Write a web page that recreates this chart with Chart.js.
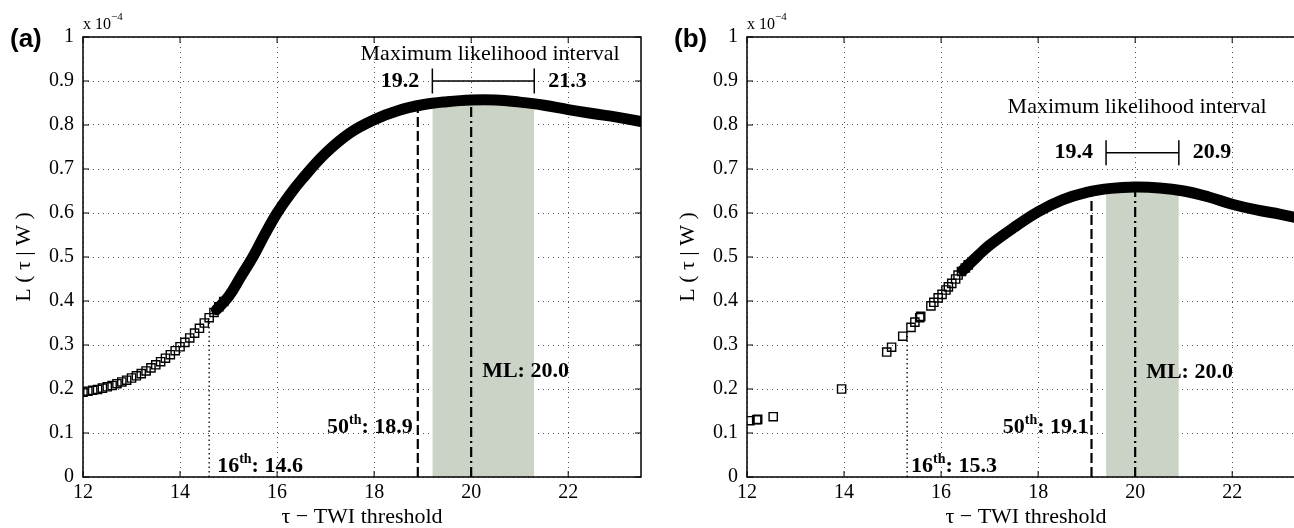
<!DOCTYPE html>
<html>
<head>
<meta charset="utf-8">
<script src="https://cdn.jsdelivr.net/npm/chart.js@4.4.1/dist/chart.umd.min.js"></script>
<style>
  html, body { margin: 0; padding: 0; background: #fff; overflow: hidden; }
  #wrap { position: relative; width: 1294px; height: 528px; overflow: hidden; }
  canvas { position: absolute; top: 0; }
  #chartA { left: 0; }
  #chartB { left: 664px; }
</style>
</head>
<body>
<div id="wrap">
  <canvas id="chartA" width="660" height="528" style="width:660px;height:528px"></canvas>
  <canvas id="chartB" width="660" height="528" style="width:660px;height:528px"></canvas>
</div>
<script>
'use strict';

// axes
const xTicks = [12, 14, 16, 18, 20, 22];
const yTicks = [0, 0.1, 0.2, 0.3, 0.4, 0.5, 0.6, 0.7, 0.8, 0.9, 1];

// panel (a) - separate squares at the low end, then the dense run
const tauSparseA = [12.0, 12.1, 12.2, 12.3, 12.4, 12.5, 12.6, 12.7, 12.8, 12.9, 13.0, 13.1, 13.2, 13.3, 13.4,
  13.5, 13.6, 13.7, 13.8, 13.9, 14.0, 14.1, 14.2, 14.3, 14.4, 14.5, 14.6, 14.7, 14.8, 14.9];
const likSparseA = [0.193, 0.195, 0.197, 0.199, 0.202, 0.205, 0.208, 0.212, 0.216, 0.220, 0.225, 0.230, 0.235, 0.241, 0.248,
  0.255, 0.262, 0.270, 0.278, 0.287, 0.296, 0.306, 0.316, 0.327, 0.338, 0.350, 0.362, 0.374, 0.387, 0.399];
const tauDenseA = [14.75, 15.0, 15.25, 15.5, 15.75, 16.0, 16.25, 16.5, 17.0, 17.5, 18.0, 18.5, 19.0, 19.5, 20.0, 20.5, 21.0, 21.5, 22.0, 22.5, 23.0, 23.5];
const likDenseA = [0.38, 0.41, 0.455, 0.50, 0.552, 0.60, 0.64, 0.675, 0.736, 0.782, 0.812, 0.833, 0.846, 0.853, 0.857, 0.857, 0.852, 0.845, 0.835, 0.826, 0.818, 0.808];

// panel (b)
const tauSparseB = [12.06, 12.2, 12.22, 12.54, 13.95, 14.88, 14.98, 15.21, 15.38, 15.46, 15.56, 15.58, 15.79, 15.85,
  15.94, 16.02, 16.1, 16.15, 16.22, 16.3, 16.35, 16.42, 16.5, 16.56];
const likSparseB = [0.128, 0.13, 0.131, 0.137, 0.2, 0.284, 0.295, 0.32, 0.34, 0.352, 0.362, 0.365, 0.389, 0.397,
  0.407, 0.415, 0.425, 0.432, 0.44, 0.45, 0.459, 0.467, 0.475, 0.482];
const tauDenseB = [16.45, 16.75, 17.0, 17.5, 18.0, 18.5, 19.0, 19.5, 20.0, 20.5, 21.0, 21.5, 22.0, 22.5, 23.0, 23.5];
const likDenseB = [0.47, 0.502, 0.527, 0.567, 0.603, 0.63, 0.647, 0.656, 0.659, 0.657, 0.65, 0.637, 0.62, 0.607, 0.597, 0.585];

// markers, [a, b]
const p16 = [14.6, 15.3];
const p16Top = [0.36, 0.33];
const p50 = [18.9, 19.1];
const p50Top = [0.84, 0.645];
const mlTau = [20.0, 20.0];
const mlTop = [0.85, 0.65];
const ciLow = [19.2, 19.4];
const ciHigh = [21.3, 20.9];
const ciTop = [0.85, 0.65];
const ciBar = [0.9, 0.737];
const tags = ['(a)', '(b)'];

const serif = '"Liberation Serif", "Times New Roman", serif';
const bold = s => `bold ${s}px ${serif}`;

// where the notes sit (data units)
const notes = [
  { titleX: 20.39, titleY: 0.948, mlY: 0.24, p50dx: -5, p16dx: 8 },
  { titleX: 20.04, titleY: 0.827, mlY: 0.239, p50dx: -3, p16dx: 4 }
];

function pts(xs, ys) {
  return xs.map((v, i) => ({ x: v, y: ys[i] }));
}

function drawRich(ctx, parts, x, y, align) {
  let w = 0;
  parts.forEach(p => { ctx.font = p.font; w += ctx.measureText(p.t).width; });
  let cx = align === 'right' ? x - w : x;
  parts.forEach(p => {
    ctx.font = p.font;
    ctx.fillText(p.t, cx, y + (p.dy || 0));
    cx += ctx.measureText(p.t).width;
  });
}

const decor = {
  id: 'decor',
  afterDatasetsDraw(chart) {
    const i = chart.options.panel;
    const n = notes[i];
    const { ctx, chartArea: { left, right, top, bottom }, scales: { x, y } } = chart;
    ctx.save();
    ctx.strokeStyle = '#000';
    ctx.fillStyle = '#000';

    // inward ticks
    ctx.lineWidth = 1;
    ctx.beginPath();
    xTicks.forEach(v => {
      const px = x.getPixelForValue(v);
      ctx.moveTo(px, bottom); ctx.lineTo(px, bottom - 6);
      ctx.moveTo(px, top); ctx.lineTo(px, top + 6);
    });
    yTicks.forEach(v => {
      const py = y.getPixelForValue(v);
      ctx.moveTo(left, py); ctx.lineTo(left + 6, py);
      ctx.moveTo(right, py); ctx.lineTo(right - 6, py);
    });
    ctx.stroke();

    // frame
    ctx.lineWidth = 1.5;
    ctx.strokeRect(left, top, right - left, bottom - top);

    // panel tag
    ctx.textBaseline = 'middle';
    ctx.textAlign = 'left';
    ctx.font = 'bold 26px "Liberation Sans", Arial, sans-serif';
    ctx.fillText(tags[i], 10, 40);

    // exponent
    ctx.textBaseline = 'alphabetic';
    drawRich(ctx, [
      { t: 'x 10', font: `16px ${serif}` },
      { t: '\u22124', font: `11px ${serif}`, dy: -9 }
    ], left, top - 8, 'left');

    // interval title and numbers
    ctx.font = `22px ${serif}`;
    ctx.textAlign = 'center';
    ctx.fillText('Maximum likelihood interval', x.getPixelForValue(n.titleX), y.getPixelForValue(n.titleY));

    ctx.textAlign = 'left';
    ctx.textBaseline = 'middle';
    const barY = y.getPixelForValue(ciBar[i]);
    ctx.font = bold(22);
    ctx.textAlign = 'right';
    ctx.fillText(ciLow[i].toFixed(1), x.getPixelForValue(ciLow[i]) - 13, barY);
    ctx.textAlign = 'left';
    ctx.fillText(ciHigh[i].toFixed(1), x.getPixelForValue(ciHigh[i]) + 14, barY);

    // ML label
    ctx.fillText('ML: ' + mlTau[i].toFixed(1), x.getPixelForValue(mlTau[i]) + 11, y.getPixelForValue(n.mlY));

    // percentile labels
    ctx.textAlign = 'left';
    ctx.textBaseline = 'alphabetic';
    drawRich(ctx, [
      { t: '50', font: bold(22) },
      { t: 'th', font: bold(14), dy: -9 },
      { t: ': ' + p50[i].toFixed(1), font: bold(22) }
    ], x.getPixelForValue(p50[i]) + n.p50dx, y.getPixelForValue(0.1), 'right');
    drawRich(ctx, [
      { t: '16', font: bold(22) },
      { t: 'th', font: bold(14), dy: -9 },
      { t: ': ' + p16[i].toFixed(1), font: bold(22) }
    ], x.getPixelForValue(p16[i]) + n.p16dx, y.getPixelForValue(0.011), 'left');

    ctx.restore();
  }
};

function makeChart(id, i) {
  const tauSparse = i === 0 ? tauSparseA : tauSparseB;
  const likSparse = i === 0 ? likSparseA : likSparseB;
  const tauDense = i === 0 ? tauDenseA : tauDenseB;
  const likDense = i === 0 ? likDenseA : likDenseB;

  const tickFont = { family: serif, size: 20 };
  const titleFont = { family: serif, size: 22, lineHeight: 1 };

  return new Chart(document.getElementById(id), {
    type: 'scatter',
    data: {
      datasets: [
        {
          // dense run of markers
          type: 'line',
          data: pts(tauDense, likDense),
          borderColor: '#000',
          borderWidth: 11,
          borderCapStyle: 'round',
          pointRadius: 0,
          tension: 0.4,
          fill: false,
          order: 0
        },
        {
          data: pts(tauSparse, likSparse),
          pointStyle: 'rect',
          pointRadius: 5.8,
          pointBorderWidth: 1.4,
          pointBorderColor: '#000',
          pointBackgroundColor: 'rgba(0,0,0,0)',
          order: 0
        },
        {
          // interval bar
          type: 'line',
          data: [{ x: ciLow[i], y: ciBar[i] }, { x: ciHigh[i], y: ciBar[i] }],
          borderColor: '#000',
          borderWidth: 1.5,
          pointStyle: 'line',
          pointRadius: 12.5,
          pointRotation: 90,
          pointBorderWidth: 1.5,
          pointBorderColor: '#000',
          fill: false,
          order: 1
        },
        {
          type: 'line',
          data: [{ x: p50[i], y: 0 }, { x: p50[i], y: p50Top[i] }],
          borderColor: '#000',
          borderWidth: 2.2,
          borderDash: [10, 4],
          pointRadius: 0,
          fill: false,
          order: 2
        },
        {
          type: 'line',
          data: [{ x: mlTau[i], y: 0 }, { x: mlTau[i], y: mlTop[i] }],
          borderColor: '#000',
          borderWidth: 2.2,
          borderDash: [10, 4, 2, 4],
          pointRadius: 0,
          fill: false,
          order: 2
        },
        {
          type: 'line',
          data: [{ x: p16[i], y: 0 }, { x: p16[i], y: p16Top[i] }],
          borderColor: '#000',
          borderWidth: 1.3,
          borderDash: [1.5, 3],
          pointRadius: 0,
          fill: false,
          order: 2
        },
        {
          // shaded ML interval
          type: 'line',
          data: [{ x: ciLow[i], y: ciTop[i] }, { x: ciHigh[i], y: ciTop[i] }],
          borderWidth: 0,
          borderColor: 'rgba(0,0,0,0)',
          backgroundColor: 'rgb(203,211,198)',
          pointRadius: 0,
          fill: 'origin',
          order: 3
        }
      ]
    },
    options: {
      panel: i,
      responsive: false,
      animation: false,
      events: [],
      layout: { padding: { left: 0, right: 19, top: 37, bottom: 0 } },
      plugins: { legend: { display: false }, tooltip: { enabled: false } },
      scales: {
        x: {
          type: 'linear',
          min: 12,
          max: 23.5,
          afterFit: s => { s.height = 51; },
          afterBuildTicks: s => { s.ticks = xTicks.map(v => ({ value: v })); },
          ticks: { font: tickFont, color: '#000', padding: 4, maxRotation: 0, autoSkip: false, includeBounds: false },
          grid: { color: '#555', lineWidth: 1, drawTicks: false },
          border: { display: false, dash: [1, 4] },
          title: { display: true, text: '\u03c4 \u2212 TWI threshold', font: titleFont, color: '#000', padding: { top: 0, bottom: 0 } }
        },
        y: {
          min: 0,
          max: 1,
          afterFit: s => { s.width = 83; },
          afterBuildTicks: s => { s.ticks = yTicks.map(v => ({ value: v })); },
          ticks: {
            font: tickFont, color: '#000', padding: 9, autoSkip: false,
            callback: v => String(Number(v.toFixed(1)))
          },
          grid: { color: '#555', lineWidth: 1, drawTicks: false },
          border: { display: false, dash: [1, 4] },
          title: { display: true, text: 'L ( \u03c4 | W )', font: titleFont, color: '#000', padding: { top: 13, bottom: 0 } }
        }
      }
    },
    plugins: [decor]
  });
}

makeChart('chartA', 0);
makeChart('chartB', 1);
</script>
</body>
</html>
